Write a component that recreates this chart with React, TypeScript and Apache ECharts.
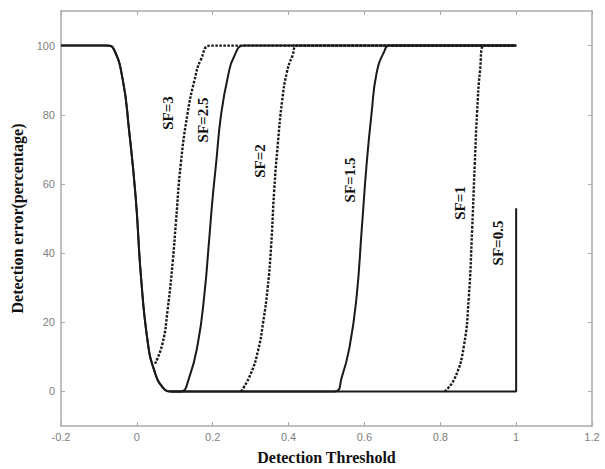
import React, { useEffect, useRef } from "react";
import * as echarts from "echarts";

// Axis ticks
const xTicks = [-0.2, 0, 0.2, 0.4, 0.6, 0.8, 1, 1.2];
const yTicks = [0, 20, 40, 60, 80, 100];

// Shared falling branch (left side)
const fallX = [-0.2, -0.08, -0.061, -0.037, -0.021, -0.003, 0.011, 0.029, 0.046, 0.068, 0.09];
const fallY = [100, 100, 99, 90, 76, 56, 33, 14, 6, 1.2, 0];

// SF=3 (dashed)
const sf3X = [0.048, 0.068, 0.081, 0.095, 0.103, 0.116, 0.134, 0.152, 0.169, 0.196, 1.0];
const sf3Y = [8, 14, 23.5, 38, 49, 66, 80.6, 90, 96, 100, 100];

// SF=2.5 (solid)
const sf25X = [0.116, 0.138, 0.161, 0.178, 0.19, 0.199, 0.209, 0.222, 0.24, 0.257, 0.283, 1.0];
const sf25Y = [0, 4, 14, 28, 43, 55, 66, 80, 91, 97, 100, 100];

// SF=2 (dashed)
const sf2X = [0.275, 0.3, 0.32, 0.333, 0.345, 0.354, 0.362, 0.372, 0.383, 0.395, 0.41, 0.425, 1.0];
const sf2Y = [0, 5, 12, 20, 30, 42, 58, 72, 84, 92, 97, 100, 100];

// SF=1.5 (solid)
const sf15X = [0.09, 0.521, 0.54, 0.561, 0.579, 0.593, 0.606, 0.619, 0.632, 0.651, 0.667, 1.0];
const sf15Y = [0, 0, 4, 13, 27, 47, 66, 80.6, 92, 98, 100, 100];

// SF=1 (dashed)
const sf1X = [0.812, 0.839, 0.862, 0.875, 0.884, 0.891, 0.897, 0.905, 0.915, 1.0];
const sf1Y = [0, 4, 13, 27, 47, 66, 80.6, 93, 100, 100];

// SF=0.5 (solid)
const sf05X = [0.09, 1.0, 1.0];
const sf05Y = [0, 0, 53];

const labelTexts = ["SF=3", "SF=2.5", "SF=2", "SF=1.5", "SF=1", "SF=0.5"];
const labelPixels: [number, number][] = [
  [168, 113],
  [203, 120],
  [260, 161],
  [350, 180],
  [460, 203],
  [498, 243],
];

const zip = (xs: number[], ys: number[]) => xs.map((x, i) => [x, ys[i]]);

const axisGray = "#aaaaaa";
const lineColor = "#1a1a1a";
const tickLabelColor = "#808080";

export default function App() {
  const ref = useRef<HTMLDivElement>(null);

  useEffect(() => {
    if (!ref.current) return;
    const chart = echarts.init(ref.current, undefined, { renderer: "svg" });

    const solid = (name: string, data: number[][], smooth = true) => ({
      name,
      type: "line",
      data,
      showSymbol: false,
      symbol: "none",
      smooth: smooth ? 0.5 : false,
      lineStyle: { color: lineColor, width: 2, type: "solid" },
      z: 2,
    });
    const dashed = (name: string, data: number[][]) => ({
      name,
      type: "line",
      data,
      showSymbol: false,
      symbol: "none",
      smooth: 0.5,
      lineStyle: { color: lineColor, width: 2.4, type: [2.5, 1.5] },
      z: 3,
    });

    const fall = zip(fallX, fallY);

    const option: any = {
      animation: false,
      backgroundColor: "#ffffff",
      grid: { left: 61, right: 13, top: 11, bottom: 43, containLabel: false, outerBoundsMode: "none" },
      xAxis: [
        {
          type: "value",
          position: "bottom",
          min: -0.2,
          max: 1.2,
          interval: 0.2,
          axisLine: { show: true, onZero: false, lineStyle: { color: axisGray, width: 1.5 } },
          axisTick: { show: true, inside: true, length: 4, lineStyle: { color: axisGray } },
          axisLabel: {
            color: tickLabelColor,
            fontSize: 11,
            fontFamily: "Arial, 'Liberation Sans', sans-serif",
            margin: 5,
            showMinLabel: true,
            showMaxLabel: true,
            formatter: (v: number) => String(Math.round(v * 10) / 10),
          },
          splitLine: { show: false },
          name: "Detection Threshold",
          nameLocation: "middle",
          nameGap: 23,
          nameTextStyle: {
            color: "#111",
            fontFamily: "'Liberation Serif', 'Times New Roman', serif",
            fontWeight: "bold",
            fontSize: 16,
          },
        },
        {
          type: "value",
          position: "top",
          min: -0.2,
          max: 1.2,
          interval: 0.2,
          axisLine: { show: true, onZero: false, lineStyle: { color: axisGray, width: 1.5 } },
          axisTick: { show: true, inside: true, length: 4, lineStyle: { color: axisGray } },
          axisLabel: { show: false },
          splitLine: { show: false },
        },
      ],
      yAxis: [
        {
          type: "value",
          position: "left",
          min: -10,
          max: 110,
          axisLine: { show: true, onZero: false, lineStyle: { color: axisGray, width: 1.5 } },
          axisTick: { show: true, inside: true, length: 4, customValues: yTicks, lineStyle: { color: axisGray } },
          axisLabel: {
            color: tickLabelColor,
            fontSize: 11,
            fontFamily: "Arial, 'Liberation Sans', sans-serif",
            margin: 6,
            customValues: yTicks,
          },
          splitLine: { show: false },
          name: "Detection error(percentage)",
          nameLocation: "middle",
          nameGap: 36,
          nameTextStyle: {
            color: "#111",
            fontFamily: "'Liberation Serif', 'Times New Roman', serif",
            fontWeight: "bold",
            fontSize: 16,
          },
        },
        {
          type: "value",
          position: "right",
          min: -10,
          max: 110,
          axisLine: { show: true, onZero: false, lineStyle: { color: axisGray, width: 1.5 } },
          axisTick: { show: true, inside: true, length: 4, customValues: yTicks, lineStyle: { color: axisGray } },
          axisLabel: { show: false },
          splitLine: { show: false },
        },
      ],
      series: [
        solid("SF=2.5", [...fall, ...zip(sf25X, sf25Y)]),
        solid("SF=1.5", [...fall, ...zip(sf15X, sf15Y)]),
        solid("SF=0.5", zip(sf05X, sf05Y), false),
        dashed("SF=3", zip(sf3X, sf3Y)),
        dashed("SF=2", zip(sf2X, sf2Y)),
        dashed("SF=1", zip(sf1X, sf1Y)),
      ],
      graphic: labelTexts.map((t, i) => ({
        type: "text",
        x: labelPixels[i][0],
        y: labelPixels[i][1],
        rotation: Math.PI / 2,
        z: 10,
        style: {
          text: t,
          fill: "#111",
          font: "bold 15px 'Liberation Serif', 'Times New Roman', serif",
          align: "center",
          verticalAlign: "middle",
        },
      })),
    };

    chart.setOption(option);
    return () => chart.dispose();
  }, []);

  return (
    <div
      ref={ref}
      style={{ position: "fixed", left: 0, top: 0, width: 605, height: 469, background: "#fff" }}
    />
  );
}
